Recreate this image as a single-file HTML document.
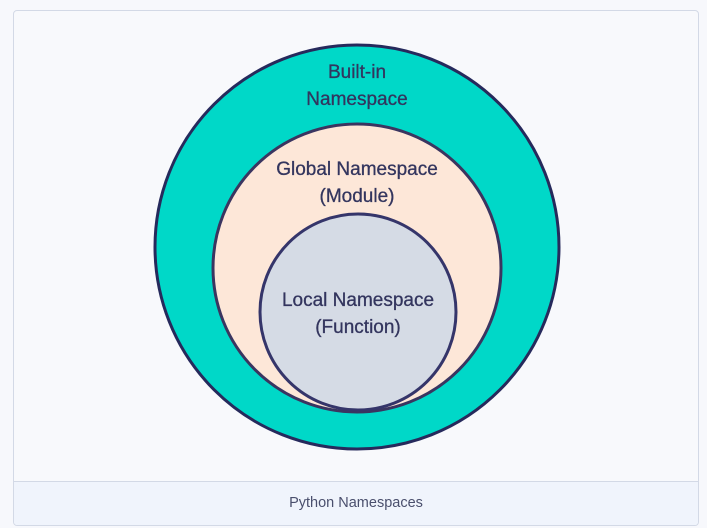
<!DOCTYPE html>
<html><head><style>
html,body{margin:0;padding:0;background:#f7f8fc;width:707px;height:528px;overflow:hidden}
.box{position:absolute;left:13px;top:10px;width:686px;height:516px;border:1px solid #d3d9e6;border-radius:4px;background:#f8f9fc;box-sizing:border-box;overflow:hidden}
.cap{position:absolute;left:0;right:0;bottom:0;height:43px;border-top:1px solid #d3d9e6;background:#f0f4fc;font:14.5px "Liberation Sans",sans-serif;color:#4a4f6d;text-align:center;line-height:42px}
svg{position:absolute;left:0;top:0}
text{font-family:"Liberation Sans",sans-serif;font-size:19px;fill:#33355e;text-anchor:middle;stroke:#33355e;stroke-width:0.3}
</style></head><body>
<div class="box"><div class="cap">Python Namespaces</div></div>
<svg width="707" height="528">
<circle cx="357" cy="247" r="202" fill="#00d8c8" stroke="#262a5c" stroke-width="3"/>
<circle cx="357" cy="268" r="144" fill="#fde7d8" stroke="#3a3560" stroke-width="3"/>
<circle cx="358" cy="312" r="98" fill="#d5dbe5" stroke="#35356a" stroke-width="3"/>
<text x="357" y="78">Built-in</text>
<text x="357" y="105">Namespace</text>
<text x="357" y="175">Global Namespace</text>
<text x="357" y="202">(Module)</text>
<text x="358" y="306">Local Namespace</text>
<text x="358" y="333">(Function)</text>
</svg>
</body></html>
